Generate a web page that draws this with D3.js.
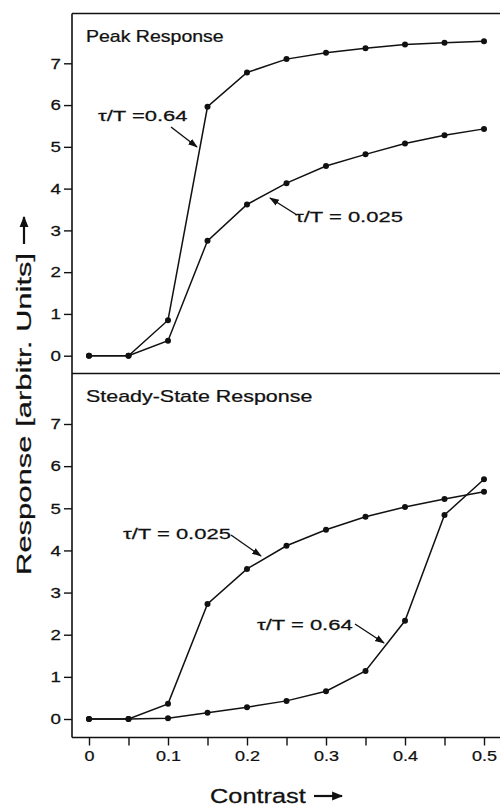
<!DOCTYPE html>
<html>
<head>
<meta charset="utf-8">
<script src="https://cdn.jsdelivr.net/npm/d3@7"></script>
<style>
  body { margin: 0; background: #fff; }
  svg text { font-family: "Liberation Sans", Arial, sans-serif; fill: #111; stroke: #111; stroke-width: 0.25; }
</style>
</head>
<body>
<div id="chart"></div>
<script>
const W = 500, H = 807;

// contrast values (shared x)
const contrast = [0, 0.05, 0.1, 0.15, 0.2, 0.25, 0.3, 0.35, 0.4, 0.45, 0.5];

// peak response
const peak064 = [0, 0, 0.85, 5.96, 6.78, 7.10, 7.25, 7.36, 7.45, 7.49, 7.53];
const peak0025 = [0, 0, 0.36, 2.75, 3.62, 4.13, 4.54, 4.82, 5.08, 5.28, 5.43];

// steady-state response
const steady0025 = [0, 0, 0.36, 2.73, 3.56, 4.11, 4.49, 4.80, 5.03, 5.22, 5.39];
const steady064 = [0, 0, 0.02, 0.15, 0.28, 0.43, 0.66, 1.14, 2.33, 4.84, 5.69];

const yTicks = [0, 1, 2, 3, 4, 5, 6, 7];
const xTicks = [0, 0.05, 0.1, 0.15, 0.2, 0.25, 0.3, 0.35, 0.4, 0.45, 0.5];
const xLabels = ['0', '', '0.1', '', '0.2', '', '0.3', '', '0.4', '', '0.5'];

const svg = d3.select('#chart').append('svg').attr('width', W).attr('height', H);

const defs = svg.append('defs');
defs.append('marker')
  .attr('id', 'arr').attr('viewBox', '0 0 10 10').attr('refX', 9).attr('refY', 5)
  .attr('markerWidth', 7).attr('markerHeight', 7).attr('orient', 'auto')
  .append('path').attr('d', 'M0,1.5 L10,5 L0,8.5 Z').attr('fill', '#111');
defs.append('marker')
  .attr('id', 'arrBig').attr('viewBox', '0 0 10 10').attr('refX', 9).attr('refY', 5)
  .attr('markerWidth', 5).attr('markerHeight', 5).attr('orient', 'auto')
  .append('path').attr('d', 'M0,1 L10,5 L0,9 Z').attr('fill', '#111');

const x = d3.scaleLinear().domain([0, 0.5]).range([89, 484]);
const yTop = d3.scaleLinear().domain([0, 7]).range([355.7, 63.3]);
const yBot = d3.scaleLinear().domain([0, 7]).range([719, 424]);

const fLeft = 72, fTop = 13.5, fMid = 373.5, fBottom = 737.5;

// frame
const frame = svg.append('g').attr('stroke', '#111').attr('stroke-width', 1.6);
frame.append('line').attr('x1', fLeft).attr('x2', fLeft).attr('y1', fTop).attr('y2', fBottom);
frame.append('line').attr('x1', fLeft).attr('x2', W).attr('y1', fTop).attr('y2', fTop);
frame.append('line').attr('x1', fLeft).attr('x2', W).attr('y1', fMid).attr('y2', fMid);
frame.append('line').attr('x1', fLeft).attr('x2', W).attr('y1', fBottom).attr('y2', fBottom);

// wide, scan-like lettering: plain text stretched sideways
function txt(px, py, s, size, sx, anchor = 'start', rot = 0) {
  svg.append('g').attr('transform', `translate(${px},${py}) rotate(${rot}) scale(${sx},1)`)
    .append('text').attr('font-size', size).attr('text-anchor', anchor).text(s);
}

function yAxis(scale) {
  const g = svg.append('g').attr('transform', `translate(${fLeft},0)`)
    .call(d3.axisLeft(scale).tickValues(yTicks).tickFormat(d3.format('d')).tickSize(8).tickPadding(3));
  g.select('.domain').remove();
  g.selectAll('.tick line').attr('stroke', '#111').attr('stroke-width', 1.4);
  g.selectAll('.tick text').attr('font-size', 15).attr('fill', '#111')
    .style('font-family', '"Liberation Sans", Arial, sans-serif')
    .attr('x', 0).attr('transform', 'translate(-11,0) scale(1.25,1)');
}
yAxis(yTop);
yAxis(yBot);

const xg = svg.append('g').attr('transform', `translate(0,${fBottom})`)
  .call(d3.axisBottom(x).tickValues(xTicks).tickFormat((d, i) => xLabels[i]).tickSize(8).tickPadding(5));
xg.select('.domain').remove();
xg.selectAll('.tick line').attr('stroke', '#111').attr('stroke-width', 1.4);
xg.selectAll('.tick text').attr('font-size', 15).attr('fill', '#111')
  .style('font-family', '"Liberation Sans", Arial, sans-serif')
  .attr('transform', 'scale(1.2,1)');

function series(vals, yScale) {
  const pts = contrast.map((c, i) => [c, vals[i]]);
  svg.append('path').datum(pts)
    .attr('fill', 'none').attr('stroke', '#111').attr('stroke-width', 1.5)
    .attr('d', d3.line().x(d => x(d[0])).y(d => yScale(d[1])));
  svg.append('g').selectAll('circle').data(pts).enter().append('circle')
    .attr('cx', d => x(d[0])).attr('cy', d => yScale(d[1])).attr('r', 3).attr('fill', '#111');
}
series(peak064, yTop);
series(peak0025, yTop);
series(steady0025, yBot);
series(steady064, yBot);

// panel titles
txt(86, 42, 'Peak Response', 16, 1.22);
txt(86, 402, 'Steady-State Response', 16, 1.34);

// annotations
function note(tx, ty, label, x1, y1, x2, y2) {
  txt(tx, ty, label, 15.5, 1.42);
  svg.append('line').attr('x1', x1).attr('y1', y1).attr('x2', x2).attr('y2', y2)
    .attr('stroke', '#111').attr('stroke-width', 1.4).attr('marker-end', 'url(#arr)');
}
note(98, 121, 'τ/T =0.64', 171, 127, 197, 147);
note(295, 222, 'τ/T = 0.025', 297, 215, 270, 198);
note(123, 539, 'τ/T = 0.025', 231, 535, 261, 556);
note(257, 630, 'τ/T = 0.64', 355, 624, 384, 643);

// axis titles with bold arrows
function bigArrow(x1, y1, x2, y2) {
  svg.append('line').attr('x1', x1).attr('y1', y1).attr('x2', x2).attr('y2', y2)
    .attr('stroke', '#111').attr('stroke-width', 2.2).attr('marker-end', 'url(#arrBig)');
}
txt(31, 575, 'Response [arbitr. Units]', 20, 1.55, 'start', -90);
bigArrow(24, 244, 24, 217);
txt(210, 803, 'Contrast', 19.5, 1.3);
bigArrow(314, 796, 342, 796);
</script>
</body>
</html>
